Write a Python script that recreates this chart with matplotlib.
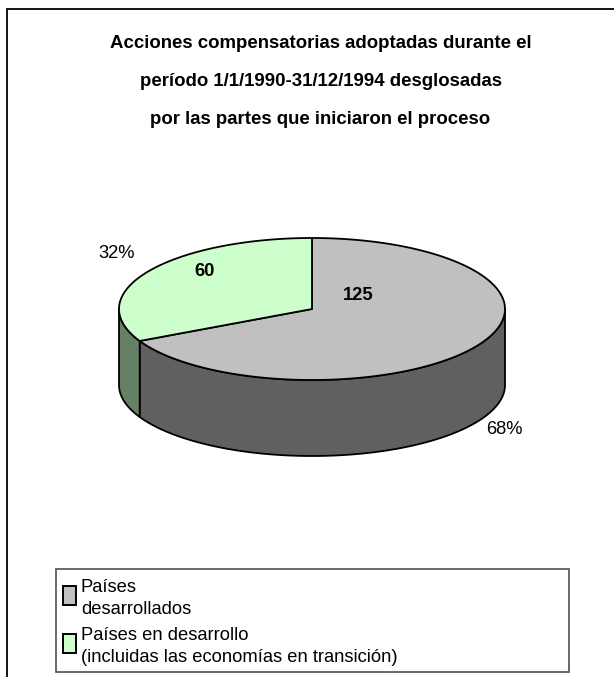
import numpy as np
import matplotlib
matplotlib.use("Agg")
import matplotlib.pyplot as plt
from matplotlib.patches import Polygon, Rectangle

plt.rcParams['font.family'] = ['Liberation Sans', 'DejaVu Sans']

categories = ["Países\ndesarrollados", "Países en desarrollo\n(incluidas las economías en transición)"]
values = [125, 60]
shares = ["68%", "32%"]
top_colors = ["#c0c0c0", "#ccffcc"]
side_colors = ["#606060", "#668066"]
title_lines = ["Acciones compensatorias adoptadas durante el",
               "período 1/1/1990-31/12/1994 desglosadas",
               "por las partes que iniciaron el proceso"]

W, H = 614, 677
CX, CY, RX, RY, DEPTH = 312, 309, 193, 71, 76

fig = plt.figure(figsize=(W / 100, H / 100), dpi=100)
ax = fig.add_axes([0, 0, 1, 1])
ax.set_xlim(0, W)
ax.set_ylim(H, 0)
ax.axis('off')


def rim(a0, a1):
    # angles in degrees, clockwise from 12 o'clock
    t = np.radians(np.linspace(a0, a1, 200))
    return CX + RX * np.sin(t), CY - RY * np.cos(t)


# outer frame runs off the right and bottom of the picture
ax.add_patch(Rectangle((7, 9), 700, 800, fc='white', ec='black', lw=1.3))

# slice angles follow from the values
split = 360 * values[0] / sum(values)

# side walls, only the part of the rim facing the viewer
for a0, a1, col in [(90, split, side_colors[0]), (split, 270, side_colors[1])]:
    x, y = rim(a0, a1)
    pts = np.r_[np.c_[x, y], np.c_[x, y + DEPTH][::-1]]
    ax.add_patch(Polygon(pts, fc=col, ec='black', lw=1.3, joinstyle='round'))

# top faces
for a0, a1, col in [(0, split, top_colors[0]), (split, 360, top_colors[1])]:
    x, y = rim(a0, a1)
    pts = np.r_[[[CX, CY]], np.c_[x, y]]
    ax.add_patch(Polygon(pts, fc=col, ec='black', lw=1.3, joinstyle='round'))

# title and slice labels
for yt, line in zip([44, 82, 119], title_lines):
    ax.text(320.5, yt, line, ha='center', va='center', fontsize=13.4, fontweight='bold')
ax.text(358, 296, str(values[0]), ha='center', va='center', fontsize=13.2, fontweight='bold')
ax.text(205, 271, str(values[1]), ha='center', va='center', fontsize=13.2, fontweight='bold')
ax.text(504, 430, shares[0], ha='center', va='center', fontsize=13.2)
ax.text(117, 253, shares[1], ha='center', va='center', fontsize=13.2)

# legend box
ax.add_patch(Rectangle((56, 569), 513, 103, fc='white', ec='#505050', lw=1.2))
for ytop, col in zip([586, 634], top_colors):
    ax.add_patch(Rectangle((63, ytop), 13, 19, fc=col, ec='black', lw=1.4))
for yt, line in zip([588, 610, 636, 658], "\n".join(categories).split("\n")):
    ax.text(81, yt, line, va='center', fontsize=13.2)

fig.savefig("out.png", dpi=100)
